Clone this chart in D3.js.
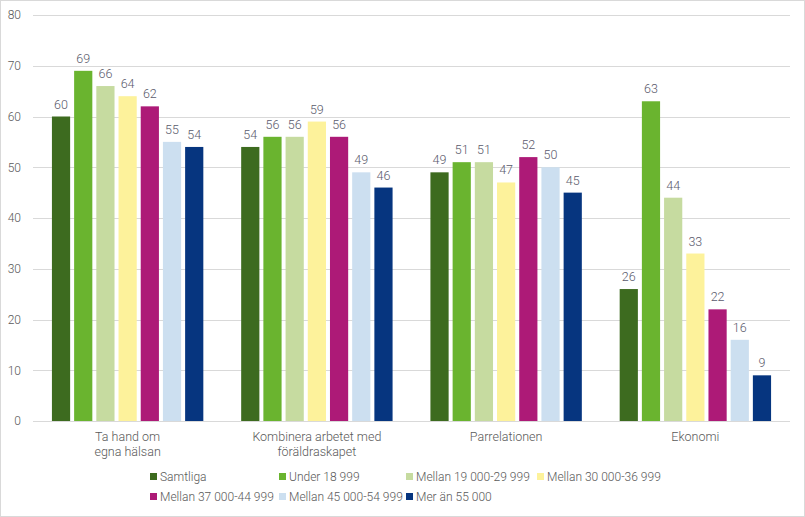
<!DOCTYPE html>
<html><head><meta charset="utf-8">
<script src="https://cdn.jsdelivr.net/npm/d3@7"></script>
<style>
html,body{margin:0;padding:0;background:#fff;}
svg{display:block;font-family:Roboto,"Open Sans",sans-serif;font-weight:300;}
</style></head>
<body>
<svg id="chart" width="805" height="517"></svg>
<script>
const categories = [["Ta hand om","egna hälsan"],["Kombinera arbetet med","föräldraskapet"],["Parrelationen"],["Ekonomi"]];
const seriesNames = ["Samtliga","Under 18 999","Mellan 19 000-29 999","Mellan 30 000-36 999","Mellan 37 000-44 999","Mellan 45 000-54 999","Mer än 55 000"];
const seriesColors = ["#3d6b1f","#6ab42f","#c6dba0","#fdf29b","#ad1a77","#ccdff0","#06357f"];
const samtliga = [60,54,49,26];
const under18999 = [69,56,51,63];
const mellan19 = [66,56,51,44];
const mellan30 = [64,59,47,33];
const mellan37 = [62,56,52,22];
const mellan45 = [55,49,50,16];
const mer55 = [54,46,45,9];
const yTicks = [0,10,20,30,40,50,60,70,80];
const seriesValues = [samtliga,under18999,mellan19,mellan30,mellan37,mellan45,mer55];

(function(){
const svg = d3.select("#chart");
svg.append("rect").attr("x",0.5).attr("y",0.5).attr("width",804).attr("height",516)
  .attr("fill","#fff").attr("stroke","#d9d9d9");

const pl=33, pr=790, pt=15, pb=421;
const x0 = d3.scaleBand().domain(d3.range(categories.length)).range([pl,pr]).paddingInner(0.2).paddingOuter(0.1);
const x1 = d3.scaleBand().domain(d3.range(seriesNames.length)).range([0,x0.bandwidth()]).paddingInner(0.18);
const y = d3.scaleLinear().domain([0,80]).range([pb,pt]);

const grid = svg.append("g");
grid.selectAll("line").data(yTicks.filter(d=>d>0)).join("line")
  .attr("x1",pl).attr("x2",pr).attr("y1",d=>Math.round(y(d))+0.5).attr("y2",d=>Math.round(y(d))+0.5)
  .attr("stroke","#d9d9d9").attr("stroke-width",1);

const yAxis = svg.append("g").attr("transform",`translate(${pl},0)`)
  .call(d3.axisLeft(y).tickValues(yTicks).tickSize(0).tickPadding(12));
yAxis.select(".domain").remove();
yAxis.selectAll("text").attr("fill","#595959").attr("font-size","12px").attr("font-family","Roboto, sans-serif").attr("font-weight",300);

const groups = svg.append("g").selectAll("g").data(categories).join("g")
  .attr("transform",(d,i)=>`translate(${x0(i)},0)`);
seriesNames.forEach((s,si)=>{
  groups.append("rect")
    .attr("x",x1(si)).attr("width",x1.bandwidth())
    .attr("y",(d,ci)=>y(seriesValues[si][ci]))
    .attr("height",(d,ci)=>pb-y(seriesValues[si][ci]))
    .attr("fill",seriesColors[si]);
  groups.append("text")
    .attr("x",x1(si)+x1.bandwidth()/2)
    .attr("y",(d,ci)=>y(seriesValues[si][ci])-8)
    .attr("text-anchor","middle").attr("font-size","12.5px").attr("fill","#5a5a6c")
    .text((d,ci)=>seriesValues[si][ci]);
});

svg.append("line").attr("x1",pl).attr("x2",pr).attr("y1",pb+0.5).attr("y2",pb+0.5)
  .attr("stroke","#d9d9d9");

const xAxis = svg.append("g");
categories.forEach((lines,i)=>{
  const t = xAxis.append("text").attr("x",x0(i)+x0.bandwidth()/2).attr("y",441)
    .attr("text-anchor","middle").attr("font-size","12.5px").attr("fill","#595959");
  lines.forEach((l,li)=>t.append("tspan").attr("x",x0(i)+x0.bandwidth()/2).attr("dy",li?15:0).text(l));
});

const legendX = [150,279,406,537];
const legendY = [477,497];
seriesNames.forEach((s,i)=>{
  const row = Math.floor(i/4), col = i%4;
  const g = svg.append("g").attr("transform",`translate(${legendX[col]},${legendY[row]})`);
  g.append("rect").attr("x",0).attr("y",-4).attr("width",7).attr("height",7).attr("fill",seriesColors[i]);
  g.append("text").attr("x",10).attr("y",0).attr("dy","0.35em").attr("font-size","12px").attr("fill","#595959").text(s);
});
})();
</script>
</body></html>
